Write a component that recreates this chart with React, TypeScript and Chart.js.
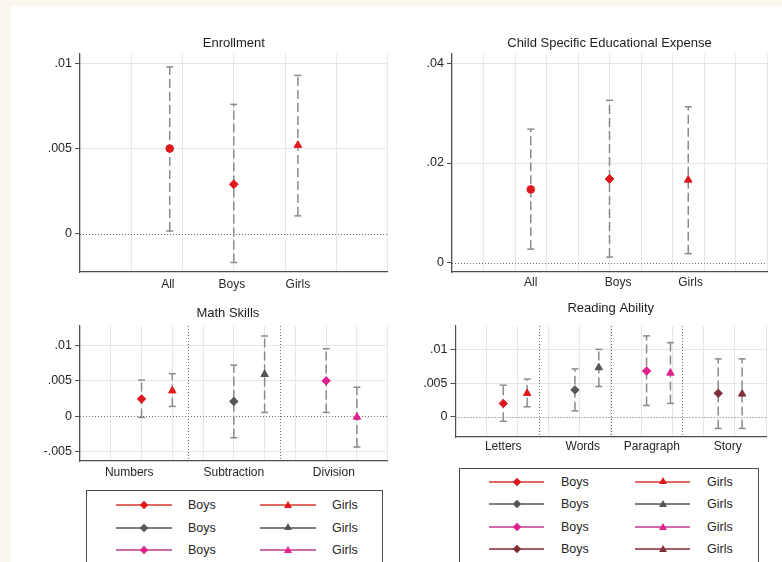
import React, { useEffect, useRef } from 'react';
import { Chart, registerables } from 'chart.js';

Chart.register(...registerables);

const FONT = '"Liberation Sans", Arial, Helvetica, sans-serif';

// ---------------- data ----------------
const enrollCats = ['All', 'Boys', 'Girls'];
const enrollEst = [0.005, 0.0029, 0.0052];
const enrollLo = [0.00015, -0.0017, 0.00104];
const enrollHi = [0.0098, 0.0076, 0.0093];
const enrollYTicks = [0, 0.005, 0.01];
const enrollYLabels = ['0', '.005', '.01'];

const expenseCats = ['All', 'Boys', 'Girls'];
const expenseEst = [0.0147, 0.0168, 0.0166];
const expenseLo = [0.0027, 0.0011, 0.0018];
const expenseHi = [0.0268, 0.0326, 0.0313];
const expenseYTicks = [0, 0.02, 0.04];
const expenseYLabels = ['0', '.02', '.04'];

const mathCats = ['Numbers', 'Subtraction', 'Division'];
const mathBoysEst = [0.00245, 0.0021, 0.005];
const mathBoysLo = [-0.00014, -0.003, 0.00056];
const mathBoysHi = [0.0051, 0.0072, 0.0095];
const mathGirlsEst = [0.0036, 0.0059, -0.0001];
const mathGirlsLo = [0.0014, 0.00056, -0.0043];
const mathGirlsHi = [0.006, 0.0113, 0.0041];
const mathYTicks = [-0.005, 0, 0.005, 0.01];
const mathYLabels = ['-.005', '0', '.005', '.01'];

const readCats = ['Letters', 'Words', 'Paragraph', 'Story'];
const readBoysEst = [0.002, 0.004, 0.0068, 0.0035];
const readBoysLo = [-0.00064, 0.0009, 0.0017, -0.0017];
const readBoysHi = [0.0047, 0.0071, 0.012, 0.0086];
const readGirlsEst = [0.0035, 0.0073, 0.0065, 0.0034];
const readGirlsLo = [0.0015, 0.0045, 0.002, -0.0017];
const readGirlsHi = [0.0056, 0.01, 0.011, 0.0086];
const readYTicks = [0, 0.005, 0.01];
const readYLabels = ['0', '.005', '.01'];

const legendBoys = 'Boys';
const legendGirls = 'Girls';

// ---------------- styles ----------------
const RED = '#e0181c';
const GRAY = '#555555';
const MAG = '#e0208c';
const BROWN = '#7e2f38';
const groupColors = [RED, GRAY, MAG, BROWN];
const legendLineColors = ['#de6a64', '#7d7d7d', '#cf6aad', '#a85d66'];
const ERR = '#8a8a8a';
const GRID = '#e6e6e6';
const AXIS = '#4d4d4d';
const TEXT = '#262626';

type Mark = { x: number; y: number; lo: number; hi: number; shape: string; color: string; r: number };
type Spec = {
  title: string;
  titleDx: number;
  titleGap: number;
  canvas: { l: number; t: number; w: number; h: number };
  area: { l: number; t: number; r: number; b: number };
  xMin: number;
  xMax: number;
  xGrid: number[];
  xLabelPos: number[];
  xLabels: string[];
  xPad: number;
  yMin: number;
  yMax: number;
  yTicks: number[];
  yLabels: string[];
  marks: Mark[];
  seps: number[];
};

function range(start: number, step: number, n: number) {
  return Array.from({ length: n }, (_, k) => +(start + k * step).toFixed(6));
}

const SHAPES3 = ['circle', 'rectRot', 'triangle'];
const R3 = [3.8, 4.4, 4.4];

const enrollMarks: Mark[] = enrollCats.map((_, i) => ({
  x: i + 1, y: enrollEst[i], lo: enrollLo[i], hi: enrollHi[i], shape: SHAPES3[i], color: RED, r: R3[i],
}));
const expenseMarks: Mark[] = expenseCats.map((_, i) => ({
  x: i + 1, y: expenseEst[i], lo: expenseLo[i], hi: expenseHi[i], shape: SHAPES3[i], color: RED, r: R3[i],
}));
const mathMarks: Mark[] = mathCats.flatMap((_, g) => [
  { x: 3 * g + 4, y: mathBoysEst[g], lo: mathBoysLo[g], hi: mathBoysHi[g], shape: 'rectRot', color: groupColors[g], r: 4.2 },
  { x: 3 * g + 5, y: mathGirlsEst[g], lo: mathGirlsLo[g], hi: mathGirlsHi[g], shape: 'triangle', color: groupColors[g], r: 4.3 },
]);
const readMarks: Mark[] = readCats.flatMap((_, g) => [
  { x: 3 * g + 3, y: readBoysEst[g], lo: readBoysLo[g], hi: readBoysHi[g], shape: 'rectRot', color: groupColors[g], r: 4.2 },
  { x: 3 * g + 4, y: readGirlsEst[g], lo: readGirlsLo[g], hi: readGirlsHi[g], shape: 'triangle', color: groupColors[g], r: 4.3 },
]);

const specs: Spec[] = [
  {
    title: 'Enrollment', titleDx: 0, titleGap: 10.5,
    canvas: { l: 15, t: 25, w: 378, h: 275 },
    area: { l: 80, t: 53.5, r: 388, b: 272 },
    xMin: -0.4, xMax: 4.4, xGrid: range(-0.4, 0.8, 7), xLabelPos: [0.97, 1.97, 3.0], xLabels: enrollCats, xPad: 5,
    yMin: -0.00226, yMax: 0.01059, yTicks: enrollYTicks, yLabels: enrollYLabels,
    marks: enrollMarks, seps: [],
  },
  {
    title: 'Child Specific Educational Expense', titleDx: 0, titleGap: 10.5,
    canvas: { l: 395, t: 25, w: 380, h: 275 },
    area: { l: 452, t: 53.5, r: 767, b: 272 },
    xMin: 0, xMax: 4, xGrid: range(0, 0.4, 11), xLabelPos: [1.0, 2.11, 3.03], xLabels: expenseCats, xPad: 3,
    yMin: -0.00189, yMax: 0.042, yTicks: expenseYTicks, yLabels: expenseYLabels,
    marks: expenseMarks, seps: [],
  },
  {
    title: 'Math Skills', titleDx: -6, titleGap: 13,
    canvas: { l: 15, t: 300, w: 378, h: 180 },
    area: { l: 80, t: 326, r: 388, b: 461 },
    xMin: 2, xMax: 12, xGrid: range(2, 1, 11), xLabelPos: [3.6, 7.0, 10.25], xLabels: mathCats, xPad: 4.5,
    yMin: -0.00627, yMax: 0.0127, yTicks: mathYTicks, yLabels: mathYLabels,
    marks: mathMarks, seps: [5.5, 8.5],
  },
  {
    title: 'Reading Ability', titleDx: 0, titleGap: 17.7,
    canvas: { l: 395, t: 300, w: 380, h: 160 },
    area: { l: 455.5, t: 326, r: 766, b: 437 },
    xMin: 1, xMax: 14, xGrid: range(1, 1.3, 11), xLabelPos: [3.0, 6.33, 9.22, 12.4], xLabels: readCats, xPad: 2,
    yMin: -0.00297, yMax: 0.01346, yTicks: readYTicks, yLabels: readYLabels,
    marks: readMarks, seps: [4.5, 7.5, 10.5],
  },
];

function mergeTicks(grid: number[], pos: number[], labels: string[]) {
  const out = grid.map((v) => ({ value: v, label: '', grid: true }));
  pos.forEach((p, i) => {
    const hit = out.find((t) => Math.abs(t.value - p) < 1e-6);
    if (hit) hit.label = labels[i];
    else out.push({ value: p, label: labels[i], grid: false });
  });
  return out.sort((a, b) => a.value - b.value);
}

function decor(s: Spec) {
  return {
    id: 'decor',
    beforeDatasetsDraw(chart: any) {
      const { ctx, chartArea: a, scales } = chart;
      ctx.save();
      ctx.strokeStyle = '#6e6e6e';
      ctx.lineWidth = 1;
      ctx.setLineDash([1, 2]);
      const y0 = Math.round(scales.y.getPixelForValue(0)) + 0.5;
      ctx.beginPath();
      ctx.moveTo(a.left, y0);
      ctx.lineTo(a.right, y0);
      ctx.stroke();
      s.seps.forEach((v) => {
        const px = Math.round(scales.x.getPixelForValue(v)) + 0.5;
        ctx.beginPath();
        ctx.moveTo(px, a.top);
        ctx.lineTo(px, a.bottom);
        ctx.stroke();
      });
      ctx.restore();
    },
    afterDraw(chart: any) {
      const { ctx, chartArea: a } = chart;
      ctx.save();
      ctx.font = `13px ${FONT}`;
      ctx.fillStyle = '#1e1e1e';
      ctx.textAlign = 'center';
      ctx.textBaseline = 'middle';
      ctx.fillText(s.title, (a.left + a.right) / 2 + s.titleDx, a.top - s.titleGap);
      ctx.restore();
    },
  };
}

function buildConfig(s: Spec): any {
  const xt = mergeTicks(s.xGrid, s.xLabelPos, s.xLabels);
  const yW = s.area.l - s.canvas.l;
  const padTop = s.area.t - s.canvas.t;
  const padRight = s.canvas.l + s.canvas.w - s.area.r;
  const xH = s.canvas.t + s.canvas.h - s.area.b;

  const errSets = s.marks.map((m) => ({
    data: [{ x: m.x, y: m.lo }, { x: m.x, y: m.hi }],
    showLine: true,
    borderColor: ERR,
    borderWidth: 1.5,
    borderDash: [9, 4],
    pointStyle: 'line',
    pointRadius: 3.5,
    pointHoverRadius: 3.5,
    pointBorderColor: ERR,
    pointBorderWidth: 1.5,
    order: 2,
    clip: false,
  }));
  const markSets = s.marks.map((m) => ({
    data: [{ x: m.x, y: m.y }],
    showLine: false,
    pointStyle: m.shape,
    pointRadius: m.r,
    pointHoverRadius: m.r,
    pointBackgroundColor: m.color,
    pointBorderColor: m.color,
    pointBorderWidth: 1,
    order: 1,
    clip: false,
  }));

  return {
    type: 'scatter',
    data: { datasets: [...markSets, ...errSets] },
    options: {
      animation: false,
      responsive: false,
      maintainAspectRatio: false,
      devicePixelRatio: 1,
      events: [],
      layout: { padding: { top: padTop, right: padRight, bottom: 0, left: 0 } },
      plugins: { legend: { display: false }, tooltip: { enabled: false }, title: { display: false } },
      scales: {
        x: {
          type: 'linear',
          min: s.xMin,
          max: s.xMax,
          afterBuildTicks: (sc: any) => {
            sc.ticks = xt.map((t) => ({ value: t.value }));
          },
          afterFit: (sc: any) => {
            sc.height = xH;
          },
          ticks: {
            autoSkip: false,
            maxRotation: 0,
            minRotation: 0,
            callback: (_v: any, i: number) => (xt[i] ? xt[i].label : ''),
            font: { family: FONT, size: 12 },
            color: TEXT,
            padding: s.xPad,
          },
          grid: {
            color: (c: any) => (c.index != null && xt[c.index] && xt[c.index].grid ? GRID : 'rgba(0,0,0,0)'),
            drawTicks: false,
            lineWidth: 1,
          },
          border: { color: AXIS, width: 1.2 },
        },
        y: {
          type: 'linear',
          min: s.yMin,
          max: s.yMax,
          afterBuildTicks: (sc: any) => {
            sc.ticks = s.yTicks.map((v) => ({ value: v }));
          },
          afterFit: (sc: any) => {
            sc.width = yW;
          },
          ticks: {
            callback: (_v: any, i: number) => s.yLabels[i],
            font: { family: FONT, size: 12.5 },
            color: TEXT,
            padding: 3,
          },
          grid: {
            color: (c: any) => (c.tick && c.tick.value === 0 ? 'rgba(0,0,0,0)' : GRID),
            tickColor: AXIS,
            tickLength: 5,
            lineWidth: 1,
          },
          border: { color: AXIS, width: 1.2 },
        },
      },
    },
    plugins: [decor(s)],
  };
}

function Panel({ spec }: { spec: Spec }) {
  const ref = useRef<HTMLCanvasElement>(null);
  useEffect(() => {
    if (!ref.current) return;
    const chart = new Chart(ref.current, buildConfig(spec));
    return () => chart.destroy();
  }, [spec]);
  const { l, t, w, h } = spec.canvas;
  return (
    <canvas
      ref={ref}
      width={w}
      height={h}
      style={{ position: 'absolute', left: l, top: t, width: w, height: h }}
    />
  );
}

type LegendSpec = {
  box: { l: number; t: number; w: number; h: number };
  rows: number[];
  boysLine: number;
  boysText: number;
  girlsLine: number;
  girlsText: number;
  lineW: number;
};

const legendSpecs: LegendSpec[] = [
  { box: { l: 86, t: 490, w: 297, h: 90 }, rows: [505, 527.7, 550], boysLine: 116, boysText: 188, girlsLine: 260, girlsText: 332, lineW: 56 },
  { box: { l: 459, t: 468, w: 300, h: 110 }, rows: [481.7, 504.3, 527.3, 549.3], boysLine: 489, boysText: 561, girlsLine: 635, girlsText: 707, lineW: 55 },
];

function Sym({ left, cy, w, color, lineColor, shape }: any) {
  return (
    <>
      <div style={{ position: 'absolute', left, top: cy - 1, width: w, height: 2, background: lineColor }} />
      {shape === 'diamond' ? (
        <div
          style={{
            position: 'absolute',
            left: left + w / 2 - 3,
            top: cy - 3,
            width: 6,
            height: 6,
            background: color,
            transform: 'rotate(45deg)',
          }}
        />
      ) : (
        <div
          style={{
            position: 'absolute',
            left: left + w / 2 - 4,
            top: cy - 4.5,
            width: 0,
            height: 0,
            borderLeft: '4px solid transparent',
            borderRight: '4px solid transparent',
            borderBottom: `7px solid ${color}`,
          }}
        />
      )}
    </>
  );
}

function Legend({ spec }: { spec: LegendSpec }) {
  const { box } = spec;
  const txt = (left: number, cy: number, s: string) => (
    <div
      style={{
        position: 'absolute',
        left,
        top: cy - 8,
        height: 16,
        lineHeight: '16px',
        fontSize: 12.5,
        color: TEXT,
        fontFamily: FONT,
        whiteSpace: 'nowrap',
      }}
    >
      {s}
    </div>
  );
  return (
    <>
      <div
        style={{
          position: 'absolute',
          left: box.l,
          top: box.t,
          width: box.w,
          height: box.h,
          border: '1px solid #4a4a4a',
          boxSizing: 'border-box',
          background: '#fff',
        }}
      />
      {spec.rows.map((cy, g) => (
        <React.Fragment key={g}>
          <Sym left={spec.boysLine} cy={cy} w={spec.lineW} color={groupColors[g]} lineColor={legendLineColors[g]} shape="diamond" />
          {txt(spec.boysText, cy, legendBoys)}
          <Sym left={spec.girlsLine} cy={cy} w={spec.lineW} color={groupColors[g]} lineColor={legendLineColors[g]} shape="triangle" />
          {txt(spec.girlsText, cy, legendGirls)}
        </React.Fragment>
      ))}
    </>
  );
}

export default function App() {
  return (
    <div
      style={{
        position: 'fixed',
        left: 0,
        top: 0,
        width: 782,
        height: 562,
        background: '#fbf7ee',
        overflow: 'hidden',
        fontFamily: FONT,
      }}
    >
      <div style={{ position: 'absolute', left: 11, top: 6, right: 0, bottom: 0, background: '#ffffff' }} />
      {specs.map((s, i) => (
        <Panel key={i} spec={s} />
      ))}
      {legendSpecs.map((l, i) => (
        <Legend key={i} spec={l} />
      ))}
    </div>
  );
}
